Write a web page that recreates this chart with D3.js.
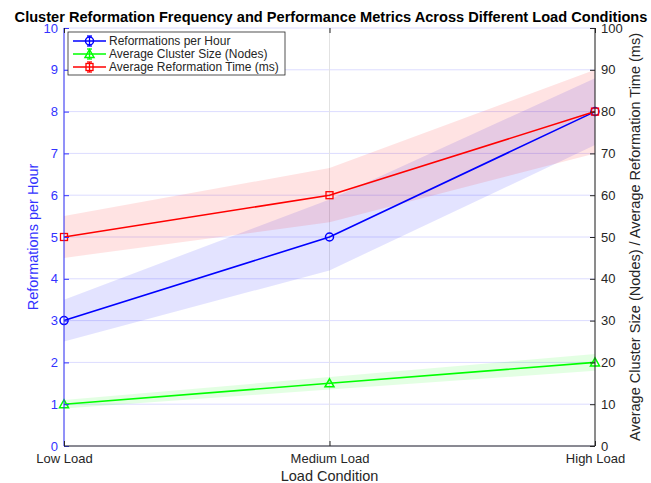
<!DOCTYPE html>
<html lang="en">
<head>
<meta charset="UTF-8">
<title>Cluster Reformation</title>
<script src="https://cdn.jsdelivr.net/npm/d3@7"></script>
<style>
  body { margin: 0; background: #fff; }
  svg text { font-family: "Liberation Sans", Arial, sans-serif; }
</style>
</head>
<body>
<div id="chart"></div>
<script>
// data
const categories = ['Low Load', 'Medium Load', 'High Load']
const reformations = [3, 5, 8]
const reformLow = [2.5, 4.2, 7.2]
const reformHigh = [3.5, 5.9, 8.8]
const clusterSize = [10, 15, 20]
const sizeLow = [9, 13.5, 18]
const sizeHigh = [11, 16.5, 22]
const reformTime = [50, 60, 80]
const timeLow = [45, 53.5, 70]
const timeHigh = [55, 66.5, 90]
const leftTicks = [0, 1, 2, 3, 4, 5, 6, 7, 8, 9, 10]
const rightTicks = [0, 10, 20, 30, 40, 50, 60, 70, 80, 90, 100]

const W = 651, H = 483
const m = {left: 64, right: 56, top: 28, bottom: 37}
const iw = W - m.left - m.right, ih = H - m.top - m.bottom

const svg = d3.select('#chart').append('svg').attr('width', W).attr('height', H)
const g = svg.append('g').attr('transform', `translate(${m.left},${m.top})`)

const x = d3.scalePoint().domain(categories).range([0, iw])
const yL = d3.scaleLinear().domain([0, 10]).range([ih, 0])
const yR = d3.scaleLinear().domain([0, 100]).range([ih, 0])

// grid
g.selectAll('.hg').data(leftTicks).join('line')
  .attr('x1', 0).attr('x2', iw).attr('y1', d => yL(d)).attr('y2', d => yL(d))
  .attr('stroke', '#dcdcff').attr('stroke-width', 1)
g.selectAll('.vg').data(categories).join('line')
  .attr('x1', d => x(d)).attr('x2', d => x(d)).attr('y1', 0).attr('y2', ih)
  .attr('stroke', '#e2e2e2').attr('stroke-width', 1)

// bands
function band(lo, hi, scale, color) {
  const area = d3.area().x((d, i) => x(categories[i])).y0((d, i) => scale(lo[i])).y1((d, i) => scale(hi[i]))
  g.append('path').datum(lo).attr('d', area).attr('fill', color).attr('fill-opacity', 0.11)
}
band(reformLow, reformHigh, yL, '#0000ff')
band(sizeLow, sizeHigh, yR, '#00ff00')
band(timeLow, timeHigh, yR, '#ff0000')

// lines
function series(vals, scale, color, marker) {
  const line = d3.line().x((d, i) => x(categories[i])).y(d => scale(d))
  g.append('path').datum(vals).attr('d', line).attr('fill', 'none').attr('stroke', color).attr('stroke-width', 1.6)
  vals.forEach((v, i) => drawMarker(g, x(categories[i]), scale(v), color, marker))
}
function drawMarker(sel, cx, cy, color, marker) {
  if (marker === 'o') sel.append('circle').attr('cx', cx).attr('cy', cy).attr('r', 4).attr('fill', 'none').attr('stroke', color).attr('stroke-width', 1.5)
  if (marker === 's') sel.append('rect').attr('x', cx - 3.5).attr('y', cy - 3.5).attr('width', 7).attr('height', 7).attr('fill', 'none').attr('stroke', color).attr('stroke-width', 1.3)
  if (marker === '^') sel.append('path').attr('d', `M${cx},${cy - 4.5}L${cx + 4.5},${cy + 3.5}L${cx - 4.5},${cy + 3.5}Z`).attr('fill', 'none').attr('stroke', color).attr('stroke-width', 1.5)
}
series(reformations, yL, '#0000ff', 'o')
series(clusterSize, yR, '#00ff00', '^')
series(reformTime, yR, '#ff0000', 's')

// axes
const axL = g.append('g').call(d3.axisLeft(yL).tickValues(leftTicks).tickSize(-5).tickPadding(6))
axL.selectAll('line,path').attr('stroke', '#3333ff')
axL.selectAll('text').attr('fill', '#3333ff').attr('font-size', 13)
const axR = g.append('g').attr('transform', `translate(${iw},0)`).call(d3.axisRight(yR).tickValues(rightTicks).tickSize(-5).tickPadding(6))
axR.selectAll('line,path').attr('stroke', '#262626')
axR.selectAll('text').attr('fill', '#262626').attr('font-size', 13)
const axB = g.append('g').attr('transform', `translate(0,${ih})`).call(d3.axisBottom(x).tickSize(-5).tickPadding(8))
axB.selectAll('line,path').attr('stroke', '#262626')
axB.selectAll('text').attr('fill', '#262626').attr('font-size', 13)
const axT = g.append('g').call(d3.axisTop(x).tickSize(-5).tickFormat(''))
axT.select('path').remove()
axT.selectAll('line').attr('stroke', '#262626')
axL.select('path').attr('d', `M0,${ih}V0`)
axR.select('path').attr('d', `M0,${ih}V0`)
axB.select('path').attr('d', `M0,0H${iw}`)

// labels
svg.append('text').attr('x', 331).attr('y', 22).attr('text-anchor', 'middle')
  .attr('font-size', 14.6).attr('font-weight', 'bold').attr('fill', '#000')
  .text('Cluster Reformation Frequency and Performance Metrics Across Different Load Conditions')
svg.append('text').attr('x', m.left + iw / 2).attr('y', 481).attr('text-anchor', 'middle')
  .attr('font-size', 14.5).attr('fill', '#262626').text('Load Condition')
svg.append('text').attr('transform', `translate(38,${m.top + ih / 2}) rotate(-90)`).attr('text-anchor', 'middle')
  .attr('font-size', 14.5).attr('fill', '#3333ff').text('Reformations per Hour')
svg.append('text').attr('transform', `translate(640,${m.top + ih / 2}) rotate(-90)`).attr('text-anchor', 'middle')
  .attr('font-size', 14.5).attr('fill', '#262626').text('Average Cluster Size (Nodes) / Average Reformation Time (ms)')

// legend
const legendItems = [
  {name: 'Reformations per Hour', color: '#0000ff', marker: 'o'},
  {name: 'Average Cluster Size (Nodes)', color: '#00ff00', marker: '^'},
  {name: 'Average Reformation Time (ms)', color: '#ff0000', marker: 's'}
]
const lg = svg.append('g').attr('transform', 'translate(68,32)')
lg.append('rect').attr('width', 217).attr('height', 43).attr('fill', '#fff').attr('stroke', '#262626').attr('stroke-width', 0.8)
legendItems.forEach((d, i) => {
  const cy = 9 + i * 13
  lg.append('line').attr('x1', 5).attr('x2', 38).attr('y1', cy).attr('y2', cy).attr('stroke', d.color).attr('stroke-width', 1.6)
  lg.append('line').attr('x1', 21.5).attr('x2', 21.5).attr('y1', cy - 5).attr('y2', cy + 5).attr('stroke', d.color).attr('stroke-width', 1.3)
  lg.append('line').attr('x1', 19).attr('x2', 24).attr('y1', cy - 5).attr('y2', cy - 5).attr('stroke', d.color).attr('stroke-width', 1.3)
  lg.append('line').attr('x1', 19).attr('x2', 24).attr('y1', cy + 5).attr('y2', cy + 5).attr('stroke', d.color).attr('stroke-width', 1.3)
  drawMarker(lg, 21.5, cy, d.color, d.marker)
  lg.append('text').attr('x', 41).attr('y', cy + 4).attr('font-size', 12).attr('fill', '#262626').text(d.name)
})
</script>
</body>
</html>
